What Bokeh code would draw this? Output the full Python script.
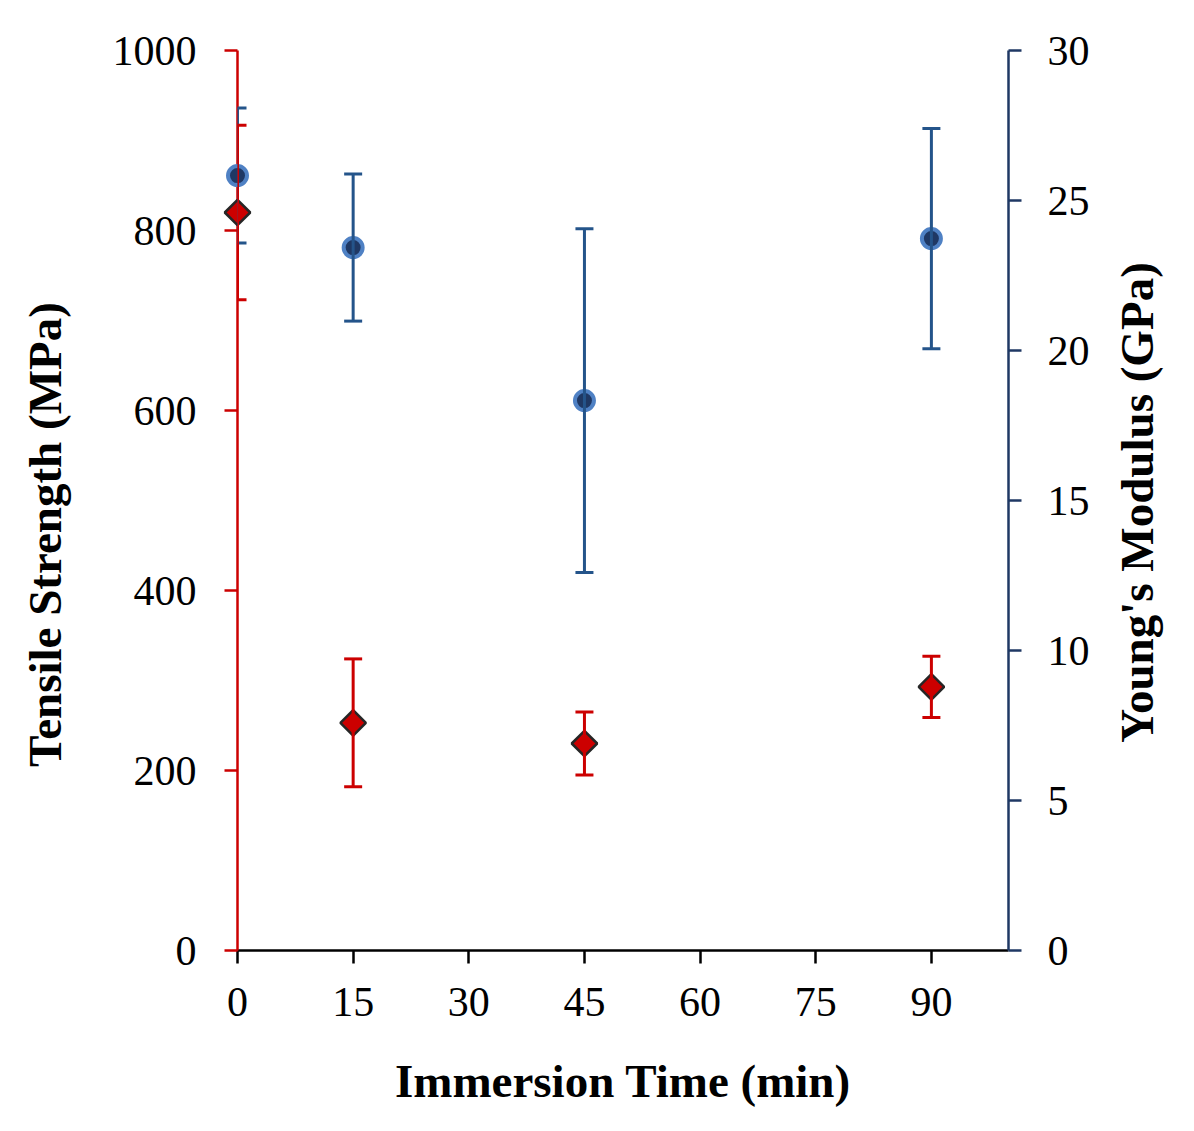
import math
from bokeh.plotting import figure
from bokeh.layouts import row
from bokeh.models import (Range1d, LinearAxis, FixedTicker, ColumnDataSource,
                          Whisker, TeeHead)
from bokeh.core.properties import value
from bokeh.embed import file_html
from bokeh.resources import INLINE

# ---- data ----
time_min = [0, 15, 45, 90]
tensile_mpa = [820, 253, 230, 293]
tensile_err = [97, 71, 35, 34]
modulus_gpa = [25.83, 23.43, 18.33, 23.73]
modulus_err = [2.25, 2.45, 5.73, 3.67]

x_ticks = [0, 15, 30, 45, 60, 75, 90]
ts_ticks = [0, 200, 400, 600, 800, 1000]
ym_ticks = [0, 5, 10, 15, 20, 25, 30]

x_title = "Immersion Time (min)"
left_title = "Tensile Strength (MPa)"
right_title = "Young's Modulus (GPa)"

FONT = "Liberation Serif"
RED = "#CC0000"
NAVY = "#1F3864"
BLUE_BAR = "#24548A"
H = 1123
TOP, BOTTOM = 50, 173

src = ColumnDataSource(dict(
    t=time_min,
    ts=tensile_mpa,
    ts_lo=[v - e for v, e in zip(tensile_mpa, tensile_err)],
    ts_hi=[v + e for v, e in zip(tensile_mpa, tensile_err)],
    ym=modulus_gpa,
    ym_lo=[v - e for v, e in zip(modulus_gpa, modulus_err)],
    ym_hi=[v + e for v, e in zip(modulus_gpa, modulus_err)],
))

p = figure(width=1020, height=H, output_backend="svg", toolbar_location=None,
           x_range=Range1d(0, 100), y_range=Range1d(0, 1000),
           min_border_left=157, min_border_right=92,
           min_border_top=TOP, min_border_bottom=BOTTOM)
p.extra_y_ranges = {"gpa": Range1d(0, 30)}
p.grid.visible = False
p.outline_line_color = None
p.background_fill_color = "white"
p.border_fill_color = "white"

right_axis = LinearAxis(y_range_name="gpa")
p.add_layout(right_axis, "right")


def style(ax, color, ticks, standoff):
    ax.ticker = FixedTicker(ticks=ticks)
    ax.axis_line_color = color
    ax.axis_line_width = 2.5
    ax.major_tick_line_color = color
    ax.major_tick_line_width = 2.5
    ax.major_tick_out = 13
    ax.major_tick_in = 0
    ax.minor_tick_line_color = None
    ax.major_label_text_font = FONT
    ax.major_label_text_font_size = "42px"
    ax.major_label_text_color = "#000000"
    ax.major_label_standoff = standoff


style(p.xaxis[0], "#000000", x_ticks, 24)
style(p.yaxis[0], RED, ts_ticks, 28)
style(right_axis, NAVY, ym_ticks, 26)

xa = p.xaxis[0]
xa.axis_label = x_title
xa.axis_label_text_font = FONT
xa.axis_label_text_font_size = "47px"
xa.axis_label_text_font_style = "bold"
xa.axis_label_text_color = "#000000"
xa.axis_label_standoff = 36

# ---- Young's modulus (blue) ----
w_blue = Whisker(source=src, base="t", lower="ym_lo", upper="ym_hi",
                 y_range_name="gpa", line_color=BLUE_BAR, line_width=3,
                 upper_head=TeeHead(size=18, line_color=BLUE_BAR, line_width=3),
                 lower_head=TeeHead(size=18, line_color=BLUE_BAR, line_width=3),
                 level="overlay")
p.add_layout(w_blue)
p.scatter("t", "ym", source=src, y_range_name="gpa", marker="circle", size=19,
          fill_color=NAVY, line_color="#4F81C4", line_width=4, level="overlay")

# ---- tensile strength (red) ----
w_red = Whisker(source=src, base="t", lower="ts_lo", upper="ts_hi",
                line_color=RED, line_width=3,
                upper_head=TeeHead(size=18, line_color=RED, line_width=3),
                lower_head=TeeHead(size=18, line_color=RED, line_width=3),
                level="overlay")
p.add_layout(w_red)
p.scatter("t", "ts", source=src, marker="square", angle=math.pi / 4, size=18,
          fill_color=RED, line_color="#262626", line_width=2.5, level="overlay")


# ---- vertical axis titles, each in a narrow strip beside the plot ----
# strip frames share the main frame's vertical extent (page y TOP .. H-BOTTOM)
def title_strip(w, text, cx, cy):
    s = figure(width=w, height=H, output_backend="svg", toolbar_location=None,
               x_range=Range1d(0, w), y_range=Range1d(H - BOTTOM, TOP),
               x_axis_type=None, y_axis_type=None,
               min_border_left=0, min_border_right=0,
               min_border_top=TOP, min_border_bottom=BOTTOM)
    s.grid.visible = False
    s.outline_line_color = None
    s.background_fill_color = "white"
    s.border_fill_color = "white"
    s.text(x=[cx], y=[cy], text=[text], angle=math.pi / 2,
           text_align="center", text_baseline="middle",
           text_font=value(FONT), text_font_size="47px",
           text_font_style="bold", text_color="#000000")
    return s


left_strip = title_strip(80, left_title, 44, 534)
right_strip = title_strip(86, right_title, 36, 502)

layout = row(left_strip, p, right_strip, spacing=0)

open("out.html", "w").write(file_html(layout, INLINE))
